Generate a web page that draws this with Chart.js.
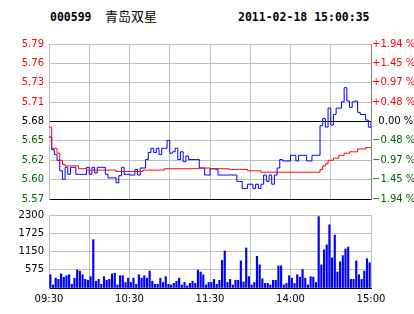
<!DOCTYPE html>
<html>
<head>
<meta charset="utf-8">
<script src="https://cdn.jsdelivr.net/npm/chart.js@4"></script>
<style>
  body { margin: 0; background: #fff; }
  #wrap { position: relative; width: 414px; height: 314px; overflow: hidden; background: #fff; }
  .hd { position: absolute; top: 11px; font: bold 11.5px "DejaVu Sans Mono", monospace; line-height: 12px; color: #000; white-space: pre; }
  .cn { font: 13px "Noto Sans CJK SC", sans-serif; top: 9px; line-height: 14px; }
  canvas { position: absolute; left: 0; }
</style>
</head>
<body>
<div id="wrap">
  <div class="hd" id="code" style="left:50px"></div>
  <div class="hd cn" id="name" style="left:105px"></div>
  <div class="hd" id="stamp" style="left:238px"></div>
  <canvas id="priceChart" width="414" height="210" style="top:0"></canvas>
  <canvas id="volChart" width="414" height="110" style="top:204px"></canvas>
</div>
<script>
const stockCode = "000599";
const stockName = "青岛双星";
const stamp = "2011-02-18 15:00:35";

const priceMin = 5.57;
const priceMax = 5.79;
const priceLabels = ["5.57", "5.60", "5.62", "5.65", "5.68", "5.71", "5.73", "5.76", "5.79"];
const pctLabels = ["\u22121.94 %", "\u22121.45 %", "\u22120.97 %", "\u22120.48 %", "\u20070.00 %", "+0.48 %", "+0.97 %", "+1.45 %", "+1.94 %"];
const volLabels = ["", "575", "1150", "1725", "2300"];
const timeLabels = ["09:30", "10:30", "11:30", "14:00", "15:00"];

// one value every 2 minutes of trading (0..240)
const price = [
  5.658, 5.640, 5.633, 5.625, 5.610, 5.598, 5.615, 5.605, 5.615, 5.615,
  5.605, 5.605, 5.605, 5.605, 5.615, 5.605, 5.615, 5.607, 5.615, 5.615,
  5.615, 5.605, 5.600, 5.600, 5.600, 5.593, 5.603, 5.615, 5.605, 5.605,
  5.604, 5.604, 5.612, 5.604, 5.614, 5.614, 5.626, 5.636, 5.642, 5.636,
  5.642, 5.633, 5.642, 5.642, 5.653, 5.635, 5.637, 5.642, 5.626, 5.637,
  5.623, 5.631, 5.626, 5.626, 5.626, 5.626, 5.614, 5.614, 5.604, 5.604,
  5.613, 5.613, 5.612, 5.604, 5.604, 5.604, 5.604, 5.604, 5.604, 5.604,
  5.595, 5.595, 5.585, 5.585, 5.591, 5.591, 5.585, 5.591, 5.585, 5.591,
  5.604, 5.595, 5.604, 5.591, 5.604, 5.614, 5.626, 5.624, 5.624, 5.624,
  5.632, 5.632, 5.624, 5.632, 5.632, 5.632, 5.624, 5.624, 5.632, 5.632,
  5.632, 5.674, 5.684, 5.672, 5.699, 5.675, 5.690, 5.699, 5.699, 5.708,
  5.728, 5.709, 5.700, 5.708, 5.709, 5.693, 5.690, 5.690, 5.682, 5.672,
  5.680
];
const avgPrice = [
  5.672, 5.642, 5.642, 5.635, 5.625, 5.619, 5.617, 5.617, 5.617, 5.617,
  5.617, 5.613, 5.613, 5.613, 5.611, 5.611, 5.611, 5.611, 5.611, 5.611,
  5.611, 5.611, 5.611, 5.611, 5.611, 5.609, 5.609, 5.609, 5.609, 5.609,
  5.609, 5.609, 5.609, 5.609, 5.609, 5.611, 5.611, 5.611, 5.611, 5.611,
  5.611, 5.611, 5.611, 5.613, 5.613, 5.613, 5.613, 5.613, 5.613, 5.613,
  5.613, 5.613, 5.613, 5.613, 5.613, 5.613, 5.614, 5.614, 5.614, 5.614,
  5.613, 5.613, 5.613, 5.613, 5.613, 5.613, 5.613, 5.612, 5.612, 5.612,
  5.612, 5.612, 5.612, 5.612, 5.610, 5.610, 5.610, 5.610, 5.610, 5.608,
  5.608, 5.608, 5.608, 5.608, 5.608, 5.608, 5.608, 5.608, 5.608, 5.608,
  5.608, 5.608, 5.608, 5.608, 5.608, 5.608, 5.608, 5.608, 5.608, 5.608,
  5.608, 5.612, 5.617, 5.620, 5.625, 5.625, 5.628, 5.628, 5.632, 5.632,
  5.635, 5.635, 5.637, 5.637, 5.637, 5.641, 5.641, 5.641, 5.643, 5.643,
  5.643
];
const volume = [
  417, 97, 310, 272, 446, 340, 388, 417, 116, 310,
  563, 534, 417, 272, 243, 359, 1523, 213, 272, 116,
  359, 243, 272, 446, 466, 97, 388, 388, 175, 310,
  175, 310, 116, 417, 310, 388, 310, 534, 213, 116,
  116, 310, 175, 359, 116, 97, 146, 213, 310, 97,
  175, 68, 146, 213, 146, 563, 504, 417, 97, 175,
  175, 272, 116, 243, 873, 1164, 175, 272, 97, 243,
  243, 854, 194, 1261, 359, 97, 175, 999, 728, 291,
  146, 146, 97, 243, 243, 698, 698, 97, 146, 388,
  310, 146, 417, 340, 582, 310, 97, 359, 340, 175,
  2250, 728, 1203, 1358, 1989, 951, 1668, 504, 825, 1019,
  1232, 1290, 272, 272, 854, 417, 272, 534, 922, 795
];

document.getElementById("code").textContent = stockCode;
document.getElementById("name").textContent = stockName;
document.getElementById("stamp").textContent = stamp;

const red = "#ff0000";
const green = "#006400";
const gridGray = "#c0c0c0";

Chart.defaults.font.family = "DejaVu Sans";
Chart.defaults.font.size = 10;
Chart.defaults.color = "#000";

function evenTicks(scale, n) {
  const step = (scale.max - scale.min) / (n - 1);
  scale.ticks = [];
  for (let i = 0; i < n; i++) scale.ticks.push({ value: scale.min + step * i });
}
function sideColor(ctx) {
  if (ctx.index > 4) return red;
  if (ctx.index === 4) return "#000";
  return green;
}

new Chart(document.getElementById("priceChart"), {
  type: "line",
  data: {
    datasets: [{
        data: avgPrice.map((v, i) => ({ x: i * 2, y: v })),
        borderColor: red,
        borderWidth: 1,
        pointRadius: 0,
        stepped: true
      },
      {
        data: price.map((v, i) => ({ x: i * 2, y: v })),
        borderColor: "#0000ff",
        borderWidth: 1,
        pointRadius: 0,
        stepped: true
      }
    ]
  },
  options: {
    responsive: false,
    animation: false,
    layout: { padding: { top: 44, bottom: 6, left: 0, right: 0 } },
    plugins: { legend: { display: false }, tooltip: { enabled: false } },
    scales: {
      x: {
        type: "linear", min: 0, max: 240,
        ticks: { display: false, stepSize: 30 },
        grid: { color: gridGray, drawTicks: false },
        border: { color: "#000" },
        afterFit: s => { s.height = 0; }
      },
      y: {
        position: "left", min: priceMin, max: priceMax,
        afterBuildTicks: s => evenTicks(s, priceLabels.length),
        ticks: { callback: (v, i) => priceLabels[i], color: sideColor, padding: 5 },
        grid: { color: ctx => (ctx.index === 0 || ctx.index === 4) ? "#000" : gridGray, drawTicks: false },
        border: { color: gridGray },
        afterFit: s => { s.width = 49; }
      },
      pct: {
        position: "right", min: -1.94, max: 1.94,
        afterBuildTicks: s => evenTicks(s, pctLabels.length),
        ticks: { callback: (v, i) => pctLabels[i], color: sideColor, padding: 1 },
        grid: { display: false, drawTicks: false },
        border: { color: "#808080" },
        afterFit: s => { s.width = 43; }
      }
    }
  }
});

new Chart(document.getElementById("volChart"), {
  type: "bar",
  data: {
    datasets: [{
      data: volume.map((v, i) => ({ x: i * 2 + 1, y: v })),
      backgroundColor: "#0000ff",
      borderWidth: 0,
      barThickness: 1.5
    }]
  },
  options: {
    responsive: false,
    animation: false,
    layout: { padding: { top: 5, bottom: 4, left: 0, right: 43 } },
    plugins: { legend: { display: false }, tooltip: { enabled: false } },
    scales: {
      x: {
        type: "linear", min: 0, max: 240, offset: false,
        ticks: {
          stepSize: 30, autoSkip: false, maxRotation: 0, padding: 5,
          callback: v => (v % 60 === 0 ? timeLabels[v / 60] : "")
        },
        grid: { color: gridGray, drawTicks: false, offset: false },
        border: { color: "#000" },
        afterFit: s => { s.height = 22; }
      },
      y: {
        min: 0, max: 2300,
        afterBuildTicks: s => evenTicks(s, volLabels.length),
        ticks: { callback: (v, i) => volLabels[i], padding: 5 },
        grid: { color: gridGray, drawTicks: false },
        border: { color: gridGray },
        afterFit: s => { s.width = 49; }
      }
    }
  }
});
</script>
</body>
</html>
